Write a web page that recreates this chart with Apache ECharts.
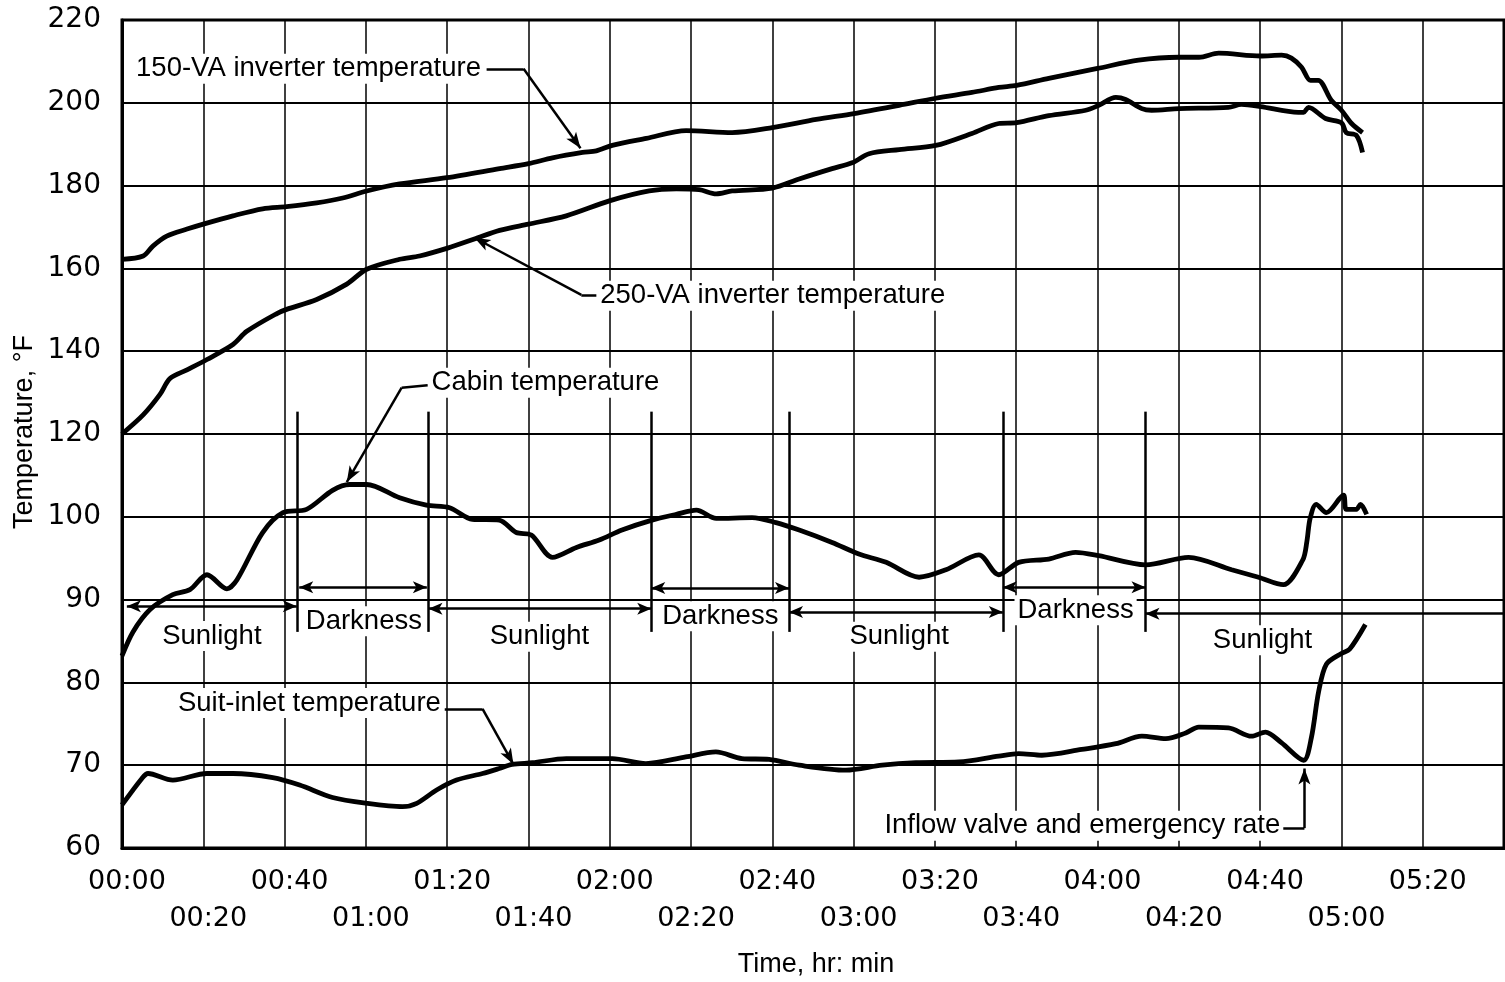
<!DOCTYPE html>
<html>
<head>
<meta charset="utf-8">
<script src="https://cdn.jsdelivr.net/npm/echarts@6/dist/echarts.min.js"></script>
<style>
html,body{margin:0;padding:0;background:#fff;}
#chart{width:1505px;height:982px;}
</style>
</head>
<body>
<div id="chart"></div>
<script>
// ---------- DATA (time in minutes, temperature in °F) ----------
const timeTickLabels = ['00:00','00:20','00:40','01:00','01:20','01:40','02:00','02:20','02:40','03:00','03:20','03:40','04:00','04:20','04:40','05:00','05:20'];
const upperTickLabels = [100,120,140,160,180,200,220];
const lowerTickLabels = [60,70,80,90];

const inv150Time = [0,5.2,7.6,11,16,20,27.3,34.6,40.5,47.9,54.3,60.2,68.3,79.9,92.9,100,105.9,113.3,116.7,120.6,129,138.8,150.1,160,170.8,180.1,191.2,200.2,209.1,215.7,220.1,228,240,250.1,260,265,269.8,280.1,285.3,287.7,290.2,292.4,294.3,297.5,300,302.5,305.2];
const inv150Temp = [162.2,163,165.4,167.8,169.5,170.7,172.7,174.4,174.9,175.8,177,178.7,180.4,181.9,184.1,185.3,186.7,188,188.4,189.7,191.4,193.3,192.8,194,196,197.4,199.4,201.1,202.5,203.7,204.2,205.9,208.3,210.3,211,211,212,211.3,211.5,210.8,208.6,205.4,205.4,200.6,198.2,195,192.8];

const inv250Time = [0,5.2,9.3,11.8,16,20.9,27.3,30.7,38.1,40.5,47.9,55.3,60.2,68.3,73.2,80.1,86.7,92.9,100,109.3,119.9,129.7,136.4,142,146.2,150.1,160,166.6,174.7,179.6,183.8,191.2,200.2,209.1,215.7,220.1,228,237.1,240.3,244.5,246.9,250.9,253.3,260,272.2,275.4,280.1,289.4,290.7,291.9,296.1,300,301.2,303.7,305.2];
const inv250Temp = [120,124.6,129.5,133.4,135.5,138,141.6,144.8,149.1,150.1,152.5,156.2,159.8,162.2,163,164.9,167.1,169.2,170.7,172.7,176.3,178.7,179.2,179,178,178.7,179.4,181.6,184.1,185.5,187.7,188.7,189.7,192.6,195,195.2,196.9,198.2,199.4,201.3,200.8,198.6,198.2,198.6,198.9,199.6,199.1,197.7,197.7,198.9,196.2,195.2,192.8,192.1,188];

const cabinTime = [0,2.7,6.9,12.5,16.7,20.9,25.8,28.3,34.6,39.6,45.4,51.8,56,60.2,68.3,74.9,80.6,86.2,92.8,97,100.7,105.9,111.8,117.4,123,130.4,136.4,141.3,146.2,155,160.9,166.6,174.7,181.3,188,196.1,202.7,210.8,215.7,220.6,228,234.6,240.3,251.8,262.4,273,279.6,285.7,290.5,291.5,292.3,293.8,296.3,300.5,301.2,303.7,304.7,306.2];
const cabinTemp = [83.2,86.1,88.8,90.6,91.2,93,91.3,92.4,98.1,100.5,100.9,103.2,103.9,103.9,102.3,101.4,101.1,99.7,99.6,98.1,97.8,95.1,96.3,97.2,98.4,99.6,100.3,100.8,99.8,99.9,99.3,98.4,96.9,95.5,94.5,92.7,93.6,95.4,93,94.5,94.9,95.7,95.3,94.2,95.1,93.6,92.7,91.8,94.8,97,99.8,101.5,100.5,102.6,100.9,100.9,101.5,100.3];

const suitTime = [0,4.9,6.4,12.5,20.9,27.3,37.1,43.7,51.8,60.2,69,72.5,77.4,82.3,88.7,92.8,96,101,109.3,120.6,128.9,138.7,146.1,152.5,159.2,166.6,178.1,187,195.3,205.9,215.7,220.6,226.3,236.1,244.5,250.9,256.8,261.7,264.9,272.2,277.9,281.3,285.3,290.7,292.6,294.4,296.3,300,302,305.9];
const suitTemp = [65.2,68.4,69,68.2,69,69,68.5,67.6,66.1,65.4,65,65.4,67,68.2,69,69.6,70.1,70.3,70.8,70.8,70.2,71,71.6,70.8,70.7,70,69.4,70,70.3,70.4,71.1,71.4,71.2,71.9,72.6,73.5,73.2,73.9,74.6,74.5,73.5,74,72.7,70.6,73.3,78.9,82.2,83.5,84,87];

// Orbital phases (minutes at which sunlight/darkness changes)
const phaseBoundaries = [43,75.4,130.2,164.1,216.7,251.8];
const phaseNames = ['Sunlight','Darkness','Sunlight','Darkness','Sunlight','Darkness','Sunlight'];

// ---------- LAYOUT (annotation placement, in axis units of the lower scale) ----------
const phaseSpans = [[1.2,43],[43.6,75],[75.4,130.2],[130.2,164.1],[164.1,216.7],[216.7,251.8],[251.8,340]];
const phaseArrowLevel = [89.2,91.5,88.9,91.4,88.5,91.5,88.3];
const phaseLabelPos = [[22.1,85.6],[59.5,87.4],[102.7,85.5],[147.2,88.0],[191.2,85.5],[234.6,88.7],[280.6,85.1]];
const phaseMarkTop = 112.7, phaseMarkBottom = 86.1;

const annotations = [
  {text:'150-VA inverter temperature', at:[2.6,154.1], stub:[[89.7,154.1],[98.8,154.1]], arrow:[[98.8,154.1],[112.8,144.5]]},
  {text:'250-VA inverter temperature', at:[116.8,126.7], stub:[[116.7,126.8],[113,126.8]], arrow:[[113,126.8],[86.7,133.7]]},
  {text:'Cabin temperature', at:[75.3,116.2], stub:[[75.2,115.9],[68.8,115.6]], arrow:[[68.8,115.6],[55.3,104.2]]},
  {text:'Suit-inlet temperature', at:[12.9,77.5], stub:[[79.4,76.8],[88.7,76.8]], arrow:[[88.7,76.8],[96.3,70.1]]},
  {text:'Inflow valve and emergency rate', at:[186.7,62.7], stub:[[283.3,62.4],[290.9,62.4]], arrow:[[290.9,62.4],[290.9,69.6]]}
];

const zip = (a,b) => a.map((x,i)=>[x,b[i]]);
const BLACK = '#000';
const ANN_FONT = 'Liberation Sans';

// ---------- markLines ----------
const markLines = [];
phaseBoundaries.forEach(t => {
  markLines.push([{coord:[t,phaseMarkTop],symbol:'none'},{coord:[t,phaseMarkBottom],symbol:'none'}]);
});
phaseSpans.forEach((s,i) => {
  const last = i === phaseSpans.length-1;
  markLines.push([
    {coord:[s[0],phaseArrowLevel[i]],symbol:'arrow',symbolSize:[9,14]},
    {coord:[s[1],phaseArrowLevel[i]],symbol:last?'none':'arrow',symbolSize:[9,14]}
  ]);
});
annotations.forEach(a => {
  markLines.push([{coord:a.stub[0],symbol:'none'},{coord:a.stub[1],symbol:'none'}]);
  markLines.push([{coord:a.arrow[0],symbol:'none'},{coord:a.arrow[1],symbol:'arrow',symbolSize:[9,16]}]);
});

// ---------- markPoints (text) ----------
const markPoints = [];
phaseNames.forEach((n,i) => {
  markPoints.push({name:n, coord:phaseLabelPos[i], label:{position:'inside'}});
});
annotations.forEach(a => {
  markPoints.push({name:a.text, coord:a.at, label:{position:'right', distance:0}});
});

const lineSeries = (name, t, v, yIdx, extra) => Object.assign({
  name, type:'line', data: zip(t,v), xAxisIndex:0, yAxisIndex:yIdx, showSymbol:false, symbol:'none',
  smooth:0.3, lineStyle:{color:BLACK,width:4.8}, itemStyle:{color:BLACK}, z:3, silent:true, animation:false
}, extra||{});

const timeLabel = (row) => (v) => {
  const i = Math.round(v/20);
  return (i % 2 === row) ? (timeTickLabels[i] || '') : '';
};
const xLabelStyle = {color:BLACK, fontFamily:'DejaVu Sans', fontSize:27, padding:[0,0,0,10],
  showMinLabel:true, showMaxLabel:false, hideOverlap:false};

const chart = echarts.init(document.getElementById('chart'), null, {renderer:'canvas'});
chart.setOption({
  backgroundColor:'#fff',
  animation:false,
  grid:{left:122,right:1,top:20,bottom:134,show:true,borderColor:BLACK,borderWidth:3,backgroundColor:'transparent'},
  xAxis:[
    {type:'value', min:0, max:340, interval:20, position:'bottom',
      axisLine:{show:true,lineStyle:{color:BLACK,width:3}},
      axisTick:{show:false},
      splitLine:{show:true,lineStyle:{color:BLACK,width:1.5}},
      axisLabel:Object.assign({margin:20, formatter:timeLabel(0)}, xLabelStyle)},
    {type:'value', min:0, max:340, interval:20, position:'bottom',
      axisLine:{show:false}, axisTick:{show:false}, splitLine:{show:false},
      axisLabel:Object.assign({margin:57, formatter:timeLabel(1)}, xLabelStyle)}
  ],
  yAxis:[
    {type:'value', min:20, max:220, interval:20, position:'left',
      axisLine:{show:true,lineStyle:{color:BLACK,width:3}}, axisTick:{show:false},
      splitLine:{show:false},
      axisLabel:{color:BLACK,fontFamily:'DejaVu Sans',fontSize:28,margin:21,showMinLabel:true,showMaxLabel:true,
        formatter:(v)=> upperTickLabels.includes(v) ? String(v) : ''}},
    {type:'value', min:60, max:160, interval:10, position:'left',
      axisLine:{show:false}, axisTick:{show:false},
      splitLine:{show:true,lineStyle:{color:BLACK,width:2}},
      axisLabel:{color:BLACK,fontFamily:'DejaVu Sans',fontSize:28,margin:21,showMinLabel:true,
        formatter:(v)=> lowerTickLabels.includes(v) ? String(v) : ''}}
  ],
  graphic:[
    {type:'text', x:25, y:432, rotation:Math.PI/2,
      style:{text:'Temperature, °F', font:'27px "Liberation Sans"', fill:BLACK, align:'center', verticalAlign:'middle'}},
    {type:'text', x:816, y:965,
      style:{text:'Time, hr: min', font:'27px "Liberation Sans"', fill:BLACK, align:'center', verticalAlign:'middle'}}
  ],
  series:[
    lineSeries('150-VA inverter temperature', inv150Time, inv150Temp, 0),
    lineSeries('250-VA inverter temperature', inv250Time, inv250Temp, 0),
    lineSeries('Suit-inlet temperature', suitTime, suitTemp, 1),
    lineSeries('Cabin temperature', cabinTime, cabinTemp, 1, {
      markLine:{silent:true, animation:false, symbol:['none','none'], precision:3,
        label:{show:false}, lineStyle:{color:BLACK,width:2.5,type:'solid'},
        emphasis:{disabled:true}, data:markLines},
      markPoint:{silent:true, animation:false, symbol:'circle', symbolSize:1,
        itemStyle:{color:'rgba(0,0,0,0)'},
        label:{show:true, formatter:'{b}', color:BLACK, fontFamily:ANN_FONT, fontSize:27.5,
          backgroundColor:'#fff', padding:[1,3]},
        data:markPoints}
    })
  ]
});
</script>
</body>
</html>
